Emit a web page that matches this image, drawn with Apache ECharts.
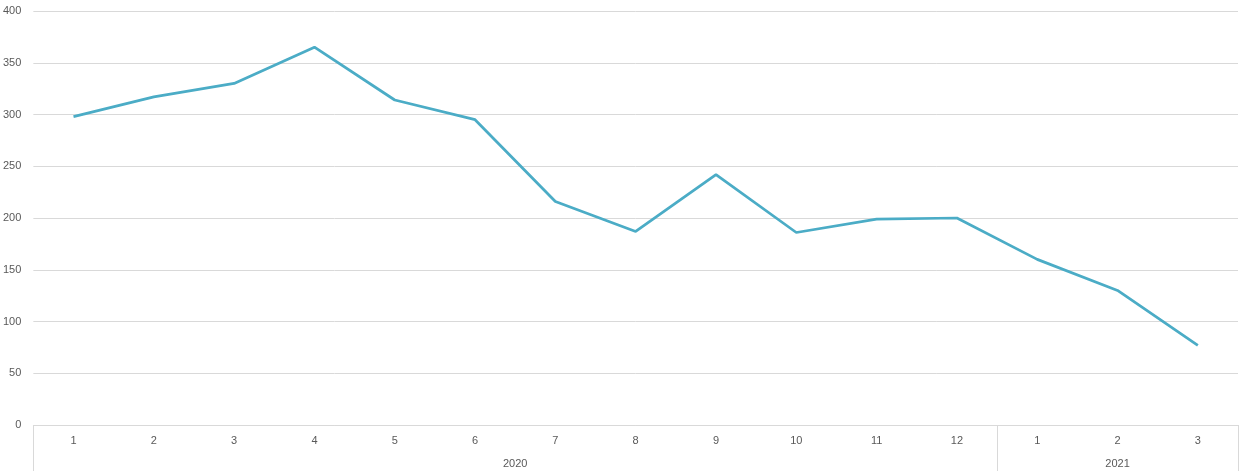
<!DOCTYPE html>
<html>
<head>
<meta charset="utf-8">
<script src="https://cdn.jsdelivr.net/npm/echarts@6/dist/echarts.min.js"></script>
<style>html,body{margin:0;padding:0;background:#fff}#c{width:1242px;height:475px}</style>
</head>
<body>
<div id="c"></div>
<script>
const months = ['1','2','3','4','5','6','7','8','9','10','11','12','1','2','3'];
const values = [298, 317, 330, 365, 314, 295, 216, 187, 242, 186, 199, 200, 160, 130, 77];
const years = ['2020', '2021'];
const yearSpans = [12, 3];
const yTicks = {min: 0, max: 400, interval: 50};

const yearCenters = [];
const yearBounds = [0];
let acc = 0;
yearSpans.forEach(s => { yearCenters.push(acc + s / 2); acc += s; yearBounds.push(acc); });

const chart = echarts.init(document.getElementById('c'), null, {renderer: 'canvas'});
const font = 'Liberation Sans, Arial, sans-serif';
chart.setOption({
  animation: false,
  grid: {left: 33, right: 4, top: 11, bottom: 50, containLabel: false},
  xAxis: [
    {
      type: 'category', data: months, boundaryGap: true, position: 'bottom',
      axisLine: {show: true, lineStyle: {color: '#d9d9d9', width: 1}},
      axisTick: {show: false},
      axisLabel: {color: '#595959', fontSize: 11, fontFamily: font, margin: 10, interval: 0}
    },
    {
      type: 'value', min: 0, max: months.length, position: 'bottom', offset: 0,
      axisLine: {show: false},
      splitLine: {show: false},
      axisTick: {show: true, customValues: yearBounds, length: 46, inside: false, lineStyle: {color: '#d9d9d9', width: 1}},
      axisLabel: {
        show: true, customValues: yearCenters, color: '#595959', fontSize: 11, fontFamily: font, margin: 33,
        formatter: v => { const i = yearCenters.indexOf(v); return i >= 0 ? years[i] : ''; }
      }
    }
  ],
  yAxis: {
    type: 'value', min: yTicks.min, max: yTicks.max, interval: yTicks.interval,
    axisLine: {show: false}, axisTick: {show: false},
    axisLabel: {color: '#595959', fontSize: 11, fontFamily: font, margin: 12},
    splitLine: {lineStyle: {color: '#d9d9d9', width: 1}}
  },
  series: [{
    type: 'line', data: values, xAxisIndex: 0, showSymbol: false, symbol: 'none',
    lineStyle: {color: '#4BACC6', width: 2.75}, itemStyle: {color: '#4BACC6'}
  }]
});
</script>
</body>
</html>
